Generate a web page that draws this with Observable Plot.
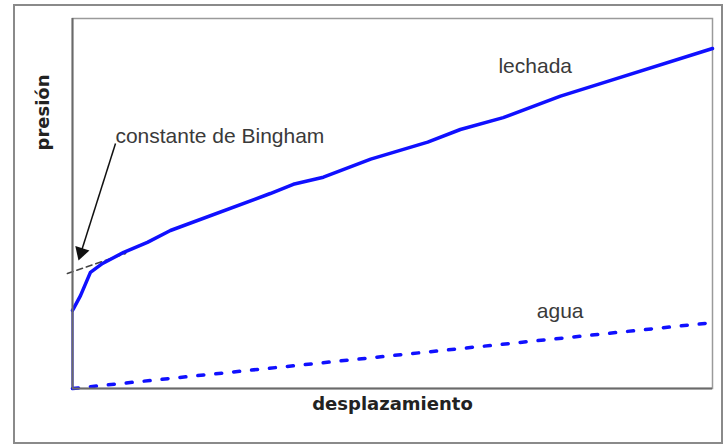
<!DOCTYPE html>
<html>
<head>
<meta charset="utf-8">
<script src="https://cdn.jsdelivr.net/npm/d3@7"></script>
<script src="https://cdn.jsdelivr.net/npm/@observablehq/plot@0.6"></script>
<style>
  html, body { margin: 0; padding: 0; background: #fff; }
  #wrap { position: relative; width: 726px; height: 444px; }
  #outer { position: absolute; left: 13px; top: 4px; width: 706px; height: 436px; border: 2px solid #8a8a8a; box-sizing: content-box; pointer-events: none; }
  #chart { position: absolute; left: 0; top: 0; }
</style>
</head>
<body>
<div id="wrap"><div id="chart"></div><div id="outer"></div></div>
<script>
// Lechada (grout) curve: displacement vs pressure (arbitrary units 0-100)
const lechadaX = [0, 0, 0.16, 1.25, 2.8, 4.7, 8.0, 11.7, 15.3, 30.9, 34.5, 39.2, 46.6, 55.5, 60.6, 67.3, 76.25, 82.5, 100];
const lechadaY = [0, 21.1, 21.6, 25.1, 31.4, 33.8, 36.8, 39.5, 42.7, 52.7, 55.2, 57.1, 62.0, 66.6, 70.0, 73.2, 79.0, 82.4, 91.9];
// Agua (water) line
const aguaX = [0, 100];
const aguaY = [0, 17.8];
// Bingham constant extrapolation (dashed)
const binghamX = [-0.8, 8.3];
const binghamY = [31.1, 36.5];
// Arrow annotation (start -> head)
const arrowFrom = {x: 6.72, y: 66.2};
const arrowTo = {x: 1.34, y: 36.8};
// Labels
const seriesLabels = [
  {text: "lechada", x: 72.3, y: 87.1},
  {text: "agua", x: 76.2, y: 21.0}
];
const noteLabel = {text: "constante de Bingham", x: 6.7, y: 68.2};
const xLabel = {text: "desplazamiento", x: 50, y: -4.3};
const yLabel = {text: "presión", x: -4.6, y: 74.6};

const lechada = lechadaX.map((x, i) => ({x, y: lechadaY[i]}));
const agua = aguaX.map((x, i) => ({x, y: aguaY[i]}));
const bingham = binghamX.map((x, i) => ({x, y: binghamY[i]}));

const plot = Plot.plot({
  width: 726,
  height: 444,
  marginTop: 18,
  marginRight: 14,
  marginBottom: 56,
  marginLeft: 72,
  x: {domain: [0, 100], axis: null},
  y: {domain: [0, 100], axis: null},
  style: {fontFamily: "Liberation Sans, Arial, sans-serif", background: "transparent", overflow: "visible"},
  marks: [
    Plot.frame({stroke: "#9a9a9a", strokeWidth: 1.5}),
    Plot.line(agua, {x: "x", y: "y", stroke: "#1010ff", strokeWidth: 3.5, strokeDasharray: "6,12", clip: false}),
    Plot.line(bingham, {x: "x", y: "y", stroke: "#444", strokeWidth: 1.5, strokeDasharray: "6,4", clip: false}),
    Plot.line(lechada.slice(0, 2), {x: "x", y: "y", stroke: "#1010ff", strokeWidth: 2}),
    Plot.line(lechada.slice(1), {x: "x", y: "y", stroke: "#1010ff", strokeWidth: 3.5, strokeLinejoin: "round"}),
    Plot.ruleX([0], {stroke: "#6a6a6a", strokeWidth: 2}),
    Plot.ruleY([0], {stroke: "#6a6a6a", strokeWidth: 2}),
    Plot.link([{x1: arrowFrom.x, y1: arrowFrom.y, x2: arrowTo.x, y2: arrowTo.y}], {x1: "x1", y1: "y1", x2: "x2", y2: "y2", stroke: "#111", strokeWidth: 1.5}),
    Plot.dot([arrowTo], {x: "x", y: "y", symbol: "triangle", r: 5.5, fill: "#111", stroke: "none", rotate: 197.5}),
    Plot.text(seriesLabels, {x: "x", y: "y", text: "text", textAnchor: "middle", fontSize: 21, fill: "#3a3a3a"}),
    Plot.text([noteLabel], {x: "x", y: "y", text: "text", textAnchor: "start", fontSize: 21, fill: "#3a3a3a"}),
    Plot.text([xLabel], {x: "x", y: "y", text: "text", fontSize: 18, fontWeight: "bold", fontFamily: "DejaVu Sans", fill: "#222", clip: false}),
    Plot.text([yLabel], {x: "x", y: "y", text: "text", fontSize: 18, fontWeight: "bold", fontFamily: "DejaVu Sans", fill: "#222", rotate: -90, clip: false})
  ]
});
document.getElementById("chart").appendChild(plot);
</script>
</body>
</html>
